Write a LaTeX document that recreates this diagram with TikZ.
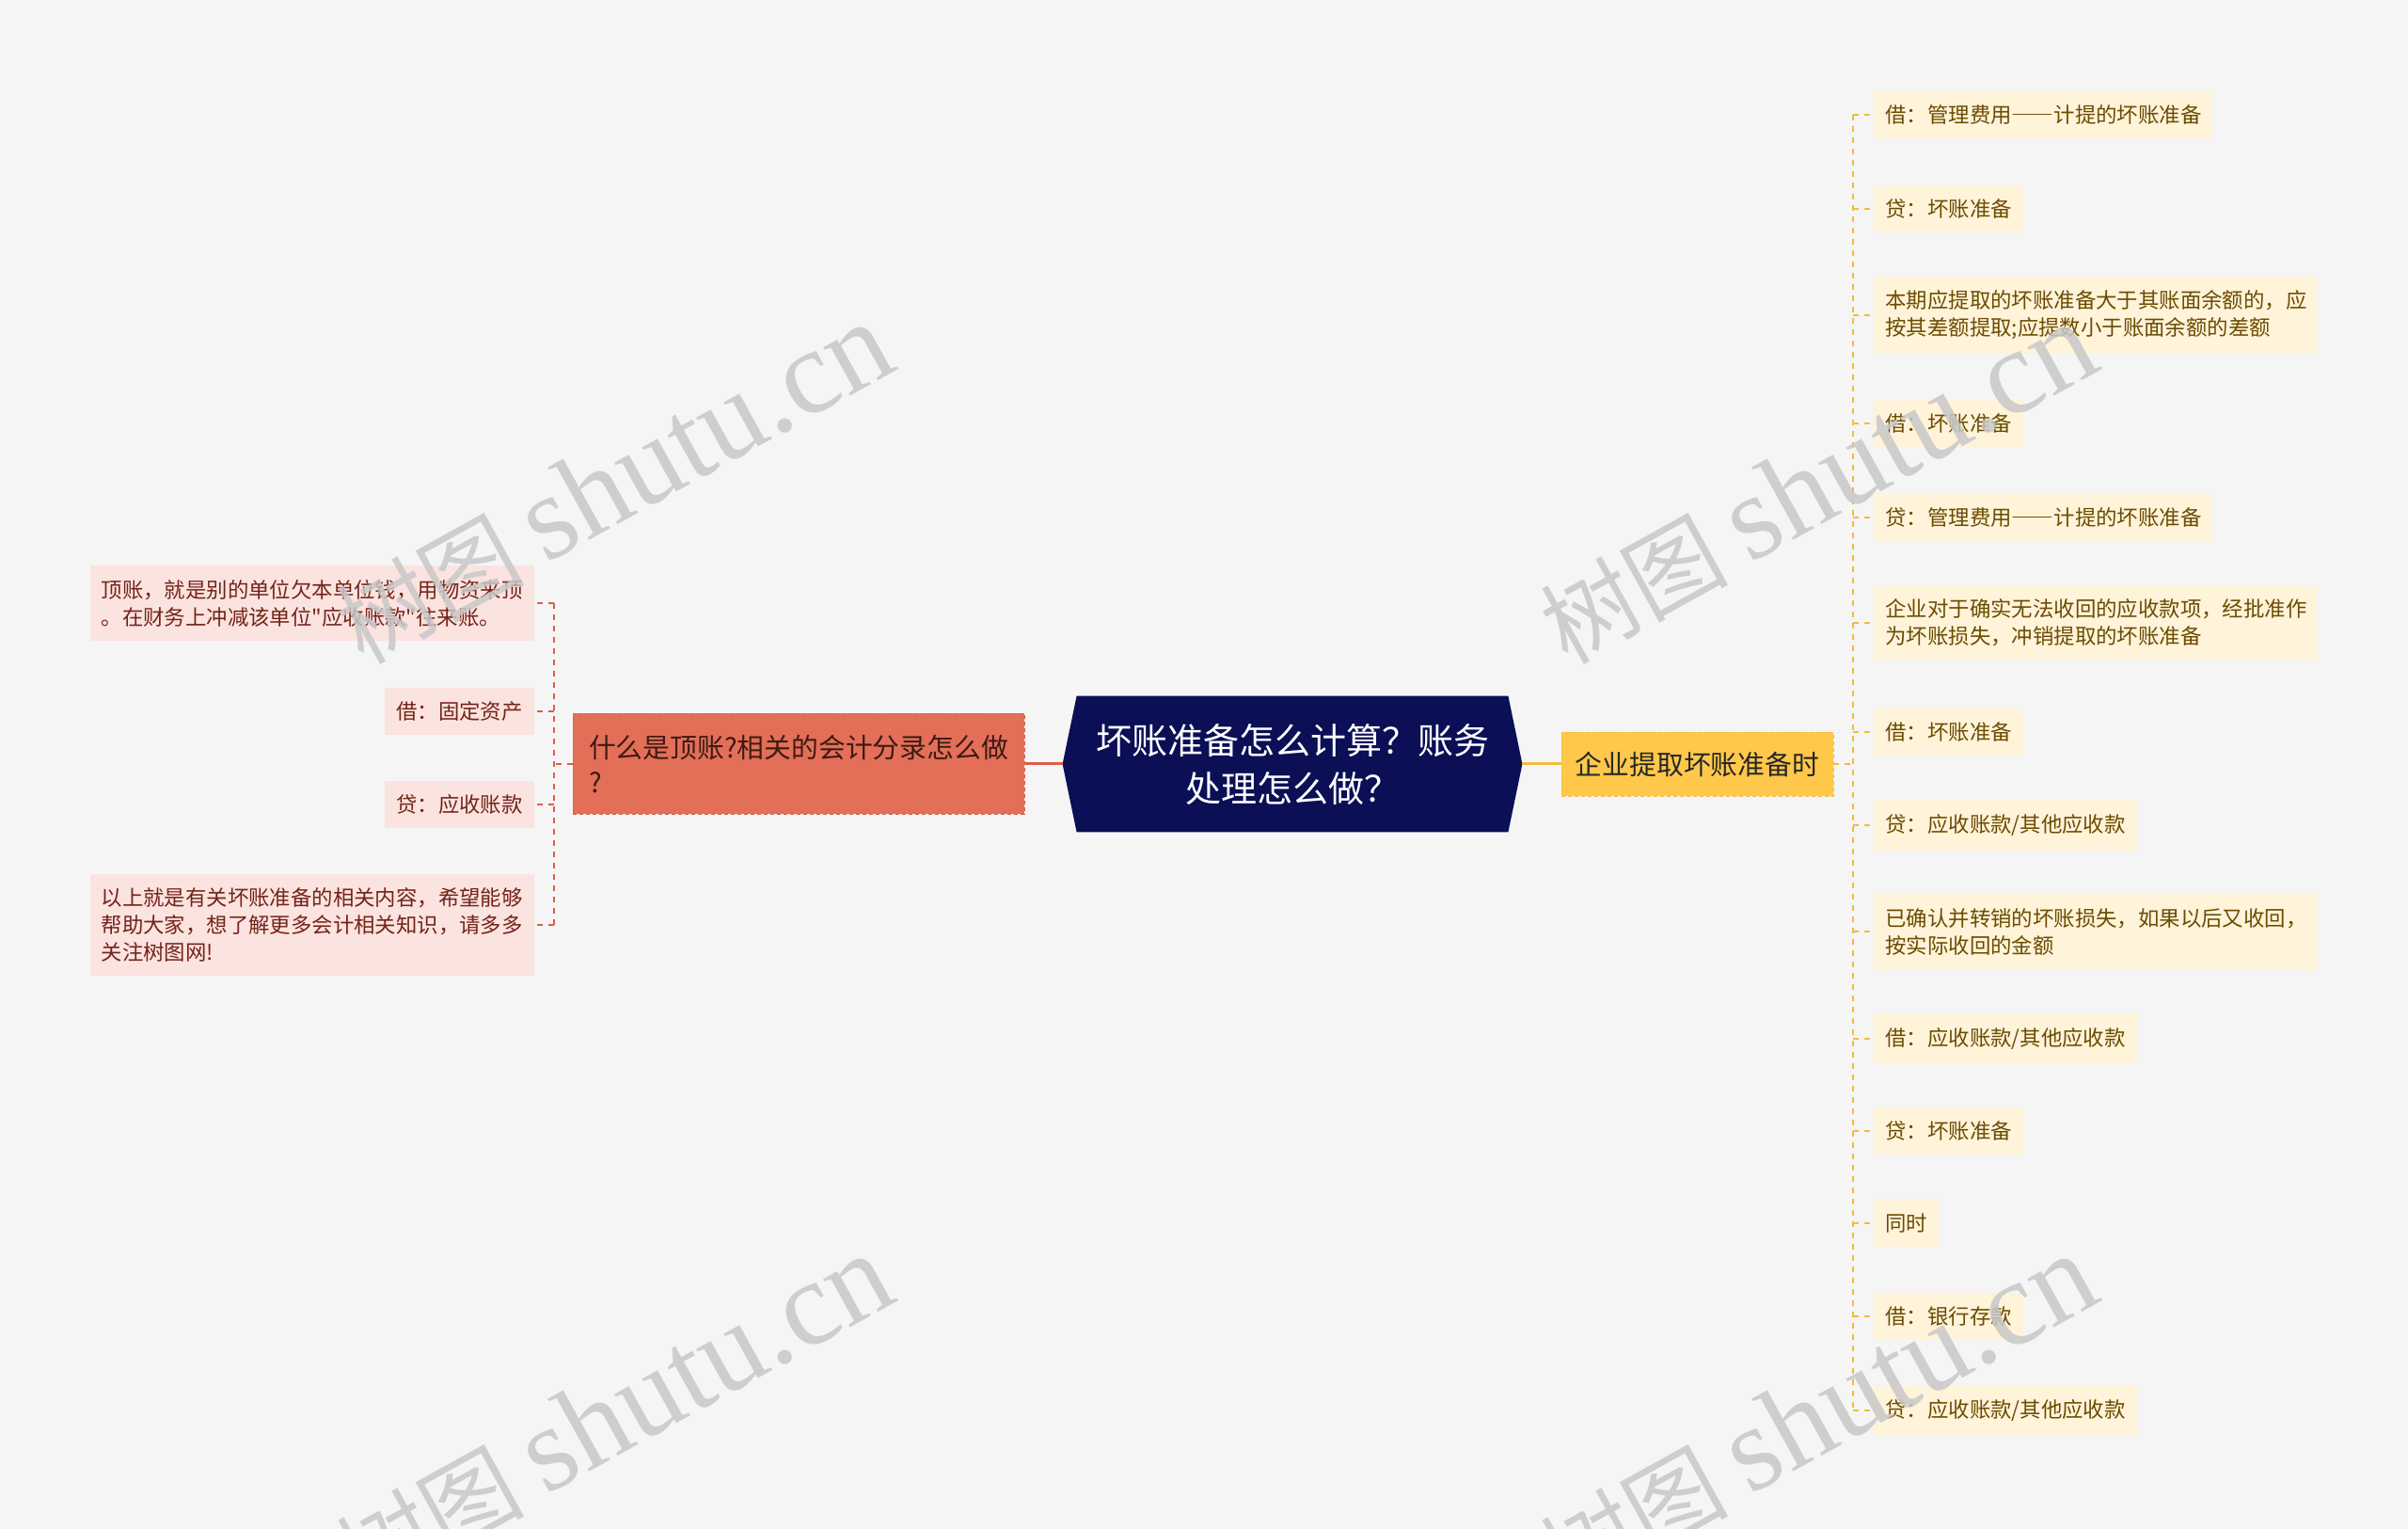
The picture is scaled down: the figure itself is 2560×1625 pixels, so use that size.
\documentclass[tikz,border=0pt]{standalone}
\usepackage{fontspec}
\setmainfont{Noto Sans CJK SC}[Ligatures=TeXOff]
\newfontfamily\fwfont{Noto Sans CJK SC}[RawFeature=+fwid]
\newfontfamily\wmserif{Liberation Serif}
\usepackage{tikz}
\usetikzlibrary{positioning,backgrounds}
\definecolor{pagebg}{HTML}{F5F5F5}
\definecolor{rootc}{HTML}{0B0F55}
\definecolor{goldc}{HTML}{FFC84A}
\definecolor{goldln}{HTML}{F2BC3C}
\definecolor{goldbg}{HTML}{FFF3DA}
\definecolor{goldtx}{HTML}{6B4C00}
\definecolor{redc}{HTML}{E36F59}
\definecolor{redln}{HTML}{D8604B}
\definecolor{redbg}{HTML}{FBE3DF}
\definecolor{redtx}{HTML}{74231A}
\definecolor{redhd}{HTML}{3E1A12}
\definecolor{wmc}{HTML}{C8C8C8}
\newcommand{\cjkdash}{{\fwfont ——}}
\tikzset{
  rlink/.style={goldln,line width=1pt,dash pattern=on 3pt off 3pt},
  llink/.style={redln,line width=1pt,dash pattern=on 3pt off 3pt},
  leafbox/.style={align=left,inner xsep=6pt,inner ysep=7.5pt,minimum height=25pt,font=\fontsize{11.2}{14.5}\selectfont},
  rleaf/.style={leafbox,fill=goldbg,text=goldtx,anchor=west},
  lleaf/.style={leafbox,fill=redbg,text=redtx,anchor=east},
  rootbox/.style={text=white,align=center,minimum width=244pt,minimum height=72pt,font=\fontsize{19}{25.5}\selectfont},
  goldbox/.style={fill=goldc,draw=goldln,dash pattern=on 2pt off 1.5pt,minimum width=144.5pt,minimum height=34pt,font=\fontsize{14.4}{18}\selectfont,text=black!85},
  redbox/.style={fill=redc,draw=redln,dash pattern=on 2pt off 1.5pt,align=left,minimum width=240pt,minimum height=53.5pt,inner xsep=8pt,font=\fontsize{14.4}{18.75}\selectfont,text=redhd},
  wmark/.style={text=wmc,text opacity=0.85,rotate=29,font=\fontsize{50}{50}\selectfont}
}
\begin{document}
\begin{tikzpicture}[x=0.5pt,y=-0.5pt]
\begin{scope}[on background layer]
\fill[pagebg] (0,0) rectangle (2560,1625);
\end{scope}
\useasboundingbox (0,0) rectangle (2560,1625);

% centre topic
\node[rootbox] (root) at (1374,812) {坏账准备怎么计算？账务\\处理怎么做？};
\begin{scope}[on background layer]
\fill[rootc] (root.west) -- ([xshift=7.5pt]root.north west) -- ([xshift=-7.5pt]root.north east)
  -- (root.east) -- ([xshift=-7.5pt]root.south east) -- ([xshift=7.5pt]root.south west) -- cycle;
\end{scope}

% main branches
\node[goldbox] (gold) at (1804.5,812) {企业提取坏账准备时};
\node[redbox] (red) at (849,812) {什么是顶账?相关的会计分录怎么做\\?};
\draw[goldln,line width=1.5pt] (root.east) -- (gold.west);
\draw[redln,line width=1.5pt] (root.west) -- (red.east);

\coordinate (rhub) at (1970,812);
\coordinate (lhub) at (589,812);
\draw[rlink] (gold.east) -- (rhub);
\draw[llink] (red.west) -- (lhub);

% right leaves
\foreach \i/\y/\txt in {
  1/122/{借：管理费用\cjkdash 计提的坏账准备},
  2/222/{贷：坏账准备},
  3/335/{本期应提取的坏账准备大于其账面余额的，应\\按其差额提取;应提数小于账面余额的差额},
  4/450/{借：坏账准备},
  5/550/{贷：管理费用\cjkdash 计提的坏账准备},
  6/662/{企业对于确实无法收回的应收款项，经批准作\\为坏账损失，冲销提取的坏账准备},
  7/778/{借：坏账准备},
  8/877/{贷：应收账款/其他应收款},
  9/990/{已确认并转销的坏账损失，如果以后又收回，\\按实际收回的金额},
  10/1104/{借：应收账款/其他应收款},
  11/1202/{贷：坏账准备},
  12/1300/{同时},
  13/1399/{借：银行存款},
  14/1499/{贷：应收账款/其他应收款}}
  \node[rleaf] (r\i) at (1992,\y) {\txt};
\draw[rlink] (r1.west -| rhub) -- (r14.west -| rhub);
\foreach \i in {1,...,14}
  \draw[rlink] (r\i.west -| rhub) -- (r\i.west);

% left leaves
\foreach \i/\y/\txt in {
  1/641/{顶账，就是别的单位欠本单位钱，用物资来顶\\。在财务上冲减该单位"应收账款"往来账。},
  2/756/{借：固定资产},
  3/855/{贷：应收账款},
  4/983/{以上就是有关坏账准备的相关内容，希望能够\\帮助大家，想了解更多会计相关知识，请多多\\关注树图网!}}
  \node[lleaf] (l\i) at (568,\y) {\txt};
\draw[llink] (l1.east -| lhub) -- (l4.east -| lhub);
\foreach \i in {1,...,4}
  \draw[llink] (l\i.east -| lhub) -- (l\i.east);

% watermarks
\foreach \wx/\wy [count=\k] in {652/514,1932/514,652/1504,1932/1504}
  \node[wmark] (wm\k) at (\wx,\wy) {树图 {\wmserif\fontsize{64}{64}\selectfont shutu.cn}};
\end{tikzpicture}
\end{document}
